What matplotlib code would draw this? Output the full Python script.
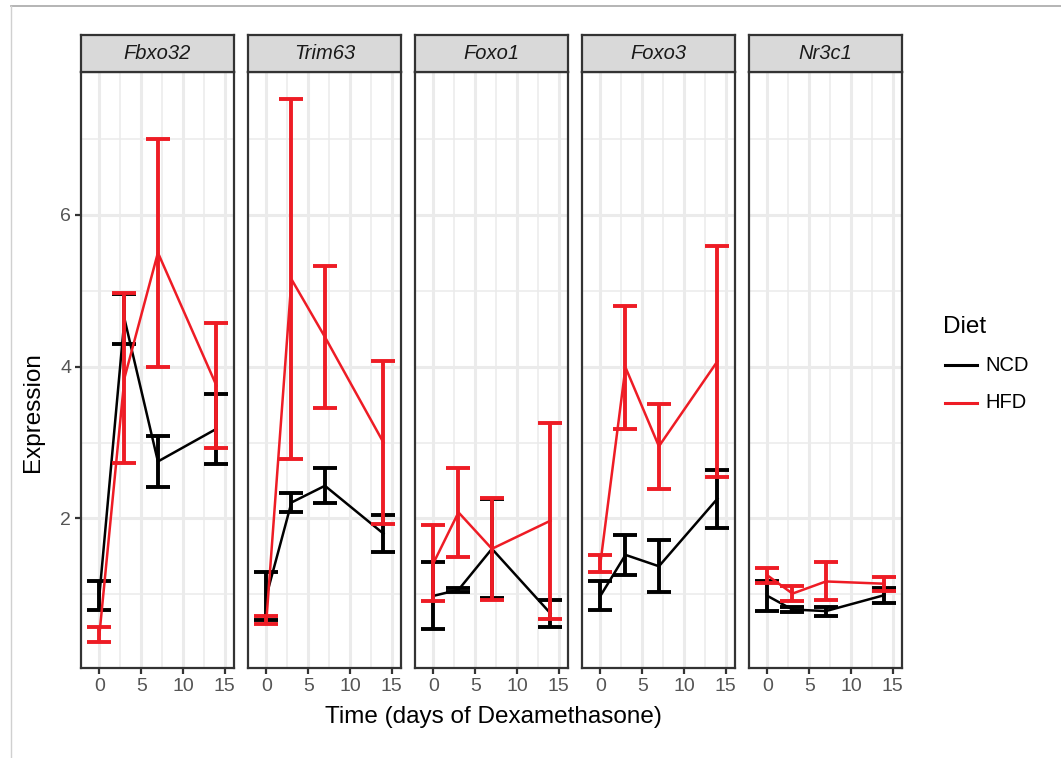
import numpy as np
import matplotlib
matplotlib.use('Agg')
import matplotlib.pyplot as plt
from matplotlib.lines import Line2D

plt.rcParams['font.family'] = ['Liberation Sans', 'DejaVu Sans']

# data (mean +/- se)
genes = ['Fbxo32', 'Trim63', 'Foxo1', 'Foxo3', 'Nr3c1']
times = [0, 3, 7, 14]

ncd_mean = [[0.99, 4.63, 2.75, 3.18],
            [0.98, 2.21, 2.43, 1.80],
            [0.98, 1.06, 1.60, 0.75],
            [0.98, 1.52, 1.37, 2.26],
            [0.98, 0.80, 0.78, 0.99]]
ncd_se = [[0.19, 0.33, 0.34, 0.46],
          [0.32, 0.13, 0.23, 0.24],
          [0.44, 0.03, 0.65, 0.18],
          [0.19, 0.26, 0.34, 0.38],
          [0.20, 0.035, 0.06, 0.10]]
hfd_mean = [[0.47, 3.85, 5.50, 3.75],
            [0.66, 5.15, 4.39, 3.00],
            [1.41, 2.08, 1.60, 1.97],
            [1.41, 3.99, 2.95, 4.07],
            [1.25, 1.01, 1.17, 1.14]]
hfd_se = [[0.10, 1.12, 1.50, 0.82],
          [0.05, 2.37, 0.94, 1.07],
          [0.50, 0.59, 0.67, 1.29],
          [0.11, 0.81, 0.56, 1.52],
          [0.10, 0.10, 0.25, 0.09]]

diets = ['NCD', 'HFD']
colors = ['black', '#EE1C25']

W, H = 1061, 758
fig = plt.figure(figsize=(W / 100, H / 100), dpi=100)

# screenshot frame
fig.add_artist(Line2D([11 / W, 1], [1 - 6 / H, 1 - 6 / H], color='#A8A8A8', lw=1.2))
fig.add_artist(Line2D([11 / W, 11 / W], [0, 1 - 6 / H], color='#D0D0D0', lw=1.0))

lefts = [81, 248, 415, 582, 749]
pw = 153
bottom, top, strip_top = 668, 72, 35
dark = '#333333'

for i, g in enumerate(genes):
    ax = fig.add_axes([lefts[i] / W, 1 - bottom / H, pw / W, (bottom - top) / H])
    ax.set_xlim(-2.2, 16.1)
    ax.set_ylim(0.03, 7.88)
    ax.set_xticks([0, 5, 10, 15])
    ax.set_xticks([2.5, 7.5, 12.5], minor=True)
    ax.set_yticks([2, 4, 6])
    ax.set_yticks([1, 3, 5, 7], minor=True)
    ax.grid(True, which='major', color='#EBEBEB', lw=2.2)
    ax.grid(True, which='minor', color='#EBEBEB', lw=1.1)
    ax.set_axisbelow(True)
    for s in ax.spines.values():
        s.set_color(dark)
        s.set_linewidth(1.6)
    ax.tick_params(which='major', length=4, width=1.6, color=dark,
                   labelsize=14, labelcolor='#555555', pad=3)
    ax.tick_params(which='minor', length=0)
    if i > 0:
        ax.tick_params(axis='y', which='major', length=0, labelleft=False)

    means = [ncd_mean[i], hfd_mean[i]]
    ses = [ncd_se[i], hfd_se[i]]
    for k in range(2):
        ax.plot(times, means[k], color=colors[k], lw=1.8, zorder=3)
        ax.errorbar(times, means[k], yerr=ses[k], fmt='none', ecolor=colors[k],
                    elinewidth=2.8, capsize=8.5, capthick=2.8, zorder=3)

    # facet strip
    sax = fig.add_axes([lefts[i] / W, 1 - top / H, pw / W, (top - strip_top) / H])
    sax.set_facecolor('#D9D9D9')
    sax.set_xticks([])
    sax.set_yticks([])
    for s in sax.spines.values():
        s.set_color(dark)
        s.set_linewidth(1.6)
    sax.text(0.5, 0.5, g, ha='center', va='center', fontsize=14.5,
             style='italic', color='#1A1A1A', transform=sax.transAxes)

fig.text(493 / W, 1 - 717 / H, 'Time (days of Dexamethasone)', ha='center', va='center',
         fontsize=17.5)
fig.text(33 / W, 1 - 412 / H, 'Expression', ha='center', va='center', rotation=90,
         fontsize=17.5)

# legend
fig.text(943 / W, 1 - 327 / H, 'Diet', ha='left', va='center', fontsize=17.5)
for k, d in enumerate(diets):
    y = 1 - (365 + 38 * k) / H
    fig.add_artist(Line2D([945 / W, 977 / W], [y, y], color=colors[k], lw=2.2))
    fig.text(985 / W, y, d, ha='left', va='center', fontsize=14.5)

fig.savefig('out.png', dpi=100, facecolor='white')
